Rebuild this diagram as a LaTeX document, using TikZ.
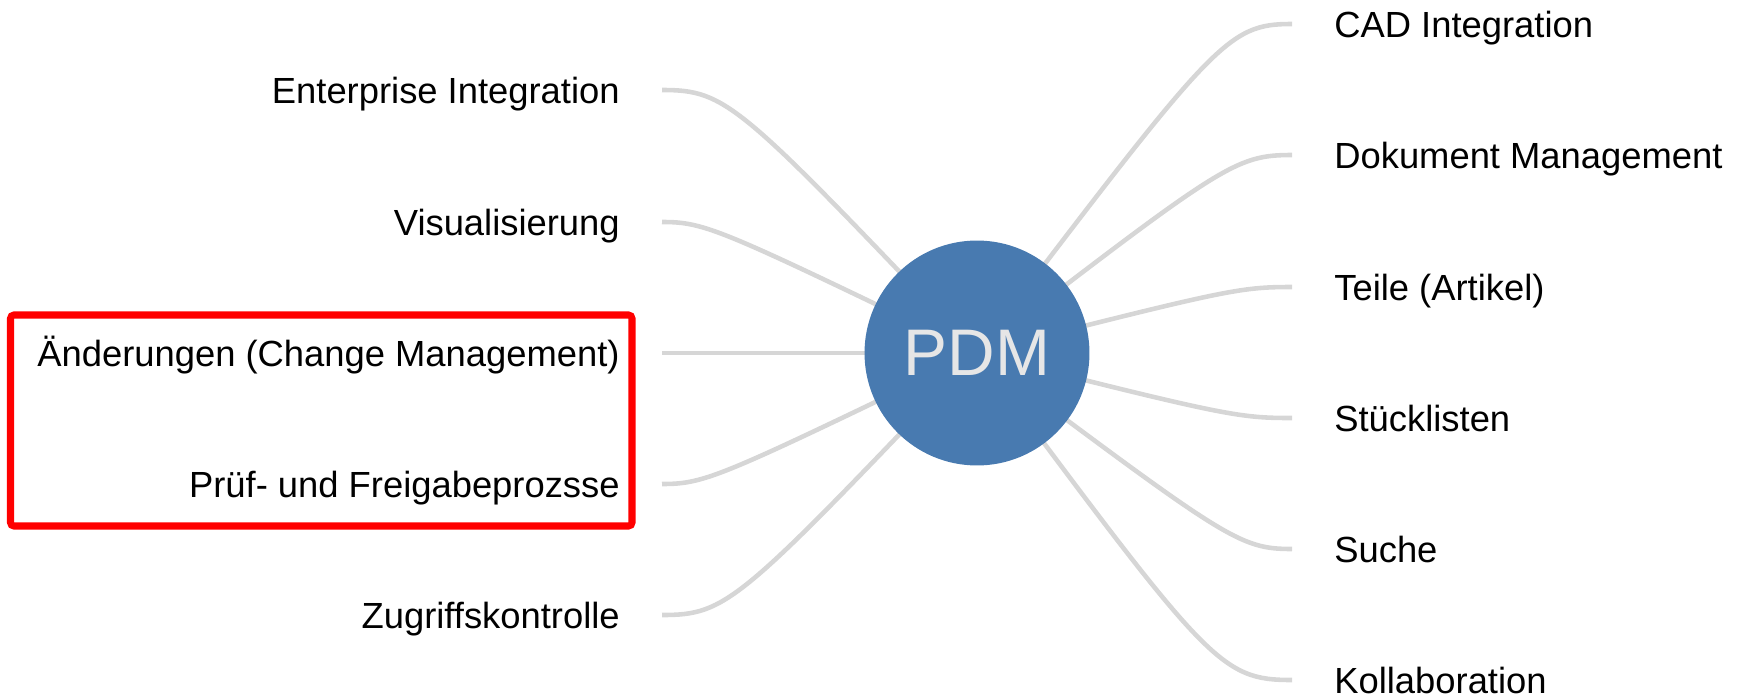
\documentclass[tikz,border=0pt]{standalone}
\usepackage{fontspec}
\setmainfont{Liberation Sans}
\usepackage{tikz}
\usetikzlibrary{shapes, backgrounds}

\definecolor{pdmblue}{HTML}{487AB0}
\definecolor{branchgray}{HTML}{D6D6D6}
\definecolor{pdmtext}{HTML}{E6E6E6}

\begin{document}
\begin{tikzpicture}[x=0.02cm, y=-0.02cm,
	branch/.style={draw=branchgray, line width=2.6pt},
	topic/.style={inner xsep=0.84cm, inner ysep=0pt, text height=14.8pt, text depth=0pt, font=\fontsize{20.7}{24}\selectfont},
	left topic/.style={topic, anchor=east},
	right topic/.style={topic, anchor=west}]
	\useasboundingbox (0,0) rectangle (1745,697);
	\node [circle, fill=pdmblue, minimum size=4.5cm, inner sep=0pt, text=pdmtext, font=\fontsize{37.5}{40}\selectfont] (PDM) at (977,353) [] {PDM};
	\node [left topic] (Enterprise) at (662,90) {Enterprise Integration};
	\node [left topic] (Visualisierung) at (662,222) {Visualisierung};
	\node [left topic] (Aenderungen) at (662,353) {Änderungen (Change Management)};
	\node [left topic] (Freigabe) at (662,484) {Prüf- und Freigabeprozsse};
	\node [left topic] (Zugriff) at (662,615) {Zugriffskontrolle};
	\node [right topic] (CAD) at (1292,24) {CAD Integration};
	\node [right topic] (Dokument) at (1292,155) {Dokument Management};
	\node [right topic] (Teile) at (1292,287) {Teile (Artikel)};
	\node [right topic] (Stueckliste) at (1292,418) {Stücklisten};
	\node [right topic] (Suche) at (1292,549) {Suche};
	\node [right topic] (Kollaboration) at (1292,680) {Kollaboration};
	\draw [draw=red, line width=4pt, rounded corners=2pt] (10.5,315) rectangle (632,526);
	\begin{scope}[on background layer]
	\draw [branch] (PDM.center) .. controls +(-238,-250) and +(65,0) .. (Enterprise.east);
	\draw [branch] (PDM.center) .. controls +(-257,-124) and +(44,0) .. (Visualisierung.east);
	\draw [branch] (PDM.center) -- (Aenderungen.east);
	\draw [branch] (PDM.center) .. controls +(-257,124) and +(44,0) .. (Freigabe.east);
	\draw [branch] (PDM.center) .. controls +(-238,250) and +(65,0) .. (Zugriff.east);
	\draw [branch] (PDM.center) .. controls +(238,-313) and +(-65,0) .. (CAD.west);
	\draw [branch] (PDM.center) .. controls +(245,-188) and +(-57,0) .. (Dokument.west);
	\draw [branch] (PDM.center) .. controls +(249,-63) and +(-53,0) .. (Teile.west);
	\draw [branch] (PDM.center) .. controls +(249,63) and +(-53,0) .. (Stueckliste.west);
	\draw [branch] (PDM.center) .. controls +(249,186) and +(-53,0) .. (Suche.west);
	\draw [branch] (PDM.center) .. controls +(231,311) and +(-72,0) .. (Kollaboration.west);
	\end{scope}
%	\draw [branch] (PDM.center) .. controls +() and +() .. ();
%	\node [right topic] () at () {};
\end{tikzpicture}
\end{document}
